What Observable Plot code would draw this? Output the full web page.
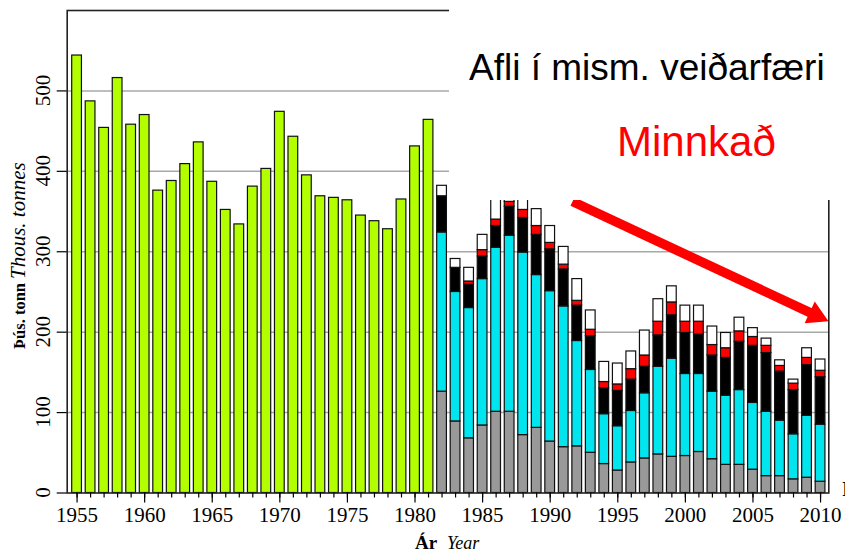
<!DOCTYPE html>
<html><head><meta charset="utf-8">
<script src="https://cdn.jsdelivr.net/npm/d3@7"></script>
<script src="https://cdn.jsdelivr.net/npm/@observablehq/plot@0.6"></script>
<style>
body{margin:0;background:#fff;}
#wrap{position:relative;width:845px;height:553px;overflow:hidden;background:#fff;}
#overlay{position:absolute;left:0;top:0;}
</style></head><body><div id="wrap"></div>
<script>
// ---- data ----
const yearsTotal = d3.range(1955, 1982);
const totalCatch = [544,487,454,516,458,470,376,388,409,436,387,352,334,381,403,474,443,395,369,367,364,345,338,328,365,431,464];

const yearsGear = d3.range(1982, 2011);
const gears = ["grátt","blátt","svart","rautt","hvítt"];
const gearColors = ["#999999","#00E5EE","#000000","#FF0000","#FFFFFF"];
const gearGray  = [126,89,68,84,101,101,72,81,64,57,58,50,36,28,38,43,48,45,46,51,42,35,35,29,21,21,17,19,14];
const gearCyan  = [198,161,162,182,204,219,227,190,187,175,131,103,62,55,64,81,109,122,102,97,84,86,93,83,80,69,56,77,71];
const gearBlack = [45,30,29,28,27,36,43,50,52,46,44,42,32,44,39,33,39,54,51,49,45,47,60,71,73,61,55,63,59];
const gearRed   = [0,0,4,8,8,6,10,11,8,6,6,8,8,8,13,14,17,16,14,16,13,12,13,11,9,7,8,9,8];
const gearWhite = [13,11,17,19,25,28,25,21,21,22,27,24,25,26,22,31,28,20,20,20,23,19,17,11,9,7,5,12,14];

const yTicks = [0,100,200,300,400,500];
const xMajor = d3.range(1955, 2011, 5);
const xMinor = d3.range(1955, 2011);

// annotation arrow (data units)
const arrowYears = [1991.65, 2009.38];
const arrowValues = [362.5, 223.1];
const arrowHead = [{year: 2009.66, value: 220.9, angle: 115}];

const greenColor = "#B3FF00";
const halfW = 0.36;

// ---- tables ----
const greenRows = yearsTotal.map((yr, i) => ({year: yr, value: totalCatch[i]}));
const series = [gearGray, gearCyan, gearBlack, gearRed, gearWhite];
const stacked = [];
yearsGear.forEach((yr, i) => {
  let base = 0;
  series.forEach((s, j) => {
    const v = s[i];
    if (v > 0) stacked.push({year: yr, gear: gears[j], y1: base, y2: base + v});
    base += v;
  });
});
const arrowLine = arrowYears.map((yr, i) => ({year: yr, value: arrowValues[i]}));

const plot = Plot.plot({
  width: 845, height: 553,
  marginLeft: 66.7, marginRight: 16.7, marginTop: 10, marginBottom: 60.5,
  x: {type: "linear", domain: [1954.27, 2010.61], axis: null},
  y: {domain: [0, 600], axis: null},
  color: {domain: gears, range: gearColors},
  style: {fontFamily: "Liberation Serif", background: "white", color: "black"},
  marks: [
    Plot.gridY(yTicks.slice(1), {stroke: "#a8a8a8", strokeOpacity: 1, strokeWidth: 1.5}),
    Plot.rect(greenRows, {x1: d => d.year - halfW, x2: d => d.year + halfW, y1: 0, y2: "value", fill: greenColor, stroke: "#111", strokeWidth: 1.2}),
    Plot.rect(stacked, {x1: d => d.year - halfW, x2: d => d.year + halfW, y1: "y1", y2: "y2", fill: "gear", stroke: "#111", strokeWidth: 1.2}),
    Plot.frame({stroke: "#222", strokeWidth: 1.6}),
    Plot.axisX(xMinor, {tickSize: 5, tickFormat: () => "", label: null, strokeWidth: 1.2}),
    Plot.axisX(xMajor, {tickSize: 10, tickPadding: 4, tickFormat: d => String(d), label: null, fontSize: 21, strokeWidth: 1.2}),
    Plot.axisY(yTicks, {tickSize: 10, tickFormat: () => "", label: null, strokeWidth: 1.2}),
    Plot.line(arrowLine, {x: "year", y: "value", stroke: "#FF0000", strokeWidth: 9.5, strokeLinecap: "butt"}),
    Plot.dot(arrowHead, {x: "year", y: "value", rotate: "angle", symbol: "triangle", r: 8.9, fill: "#FF0000", stroke: null})
  ]
});

const wrap = document.getElementById("wrap");
wrap.appendChild(plot);

// y tick labels, rotated, placed with Plot's own y scale
const yScale = plot.scale("y");
const yLabelSvg = yTicks.map(v =>
  `<text transform="translate(50,${yScale.apply(v)}) rotate(-90)" text-anchor="middle" font-family="Liberation Serif" font-size="21" fill="#000">${v}</text>`
).join("");

const ns = "http://www.w3.org/2000/svg";
const ov = document.createElementNS(ns, "svg");
ov.setAttribute("id", "overlay");
ov.setAttribute("width", 845);
ov.setAttribute("height", 553);
ov.innerHTML = `
  <rect x="449" y="0" width="396" height="200" fill="#fff"/>
  <text x="469" y="80" font-family="Liberation Sans, Arial" font-size="37" fill="#000">Afli í mism. veiðarfæri</text>
  <text x="617" y="156" font-family="Liberation Sans, Arial" font-size="42" fill="#FF0000">Minnkað</text>
  ${yLabelSvg}
  <text transform="translate(25,349) rotate(-90)" font-family="Liberation Serif" font-weight="bold" font-size="16.5" fill="#000">Þús. tonn</text>
  <text transform="translate(25,279) rotate(-90)" font-family="Liberation Serif" font-style="italic" font-size="21" fill="#000">Thous. tonnes</text>
  <text x="415" y="549" font-family="Liberation Serif" font-weight="bold" font-size="19" fill="#000">Ár</text>
  <text x="447" y="549" font-family="Liberation Serif" font-style="italic" font-size="18" fill="#000">Year</text>
  <text x="842" y="496" font-family="Liberation Serif" font-weight="bold" font-size="20" fill="#000">I</text>
`;
wrap.appendChild(ov);
</script>
</body></html>
